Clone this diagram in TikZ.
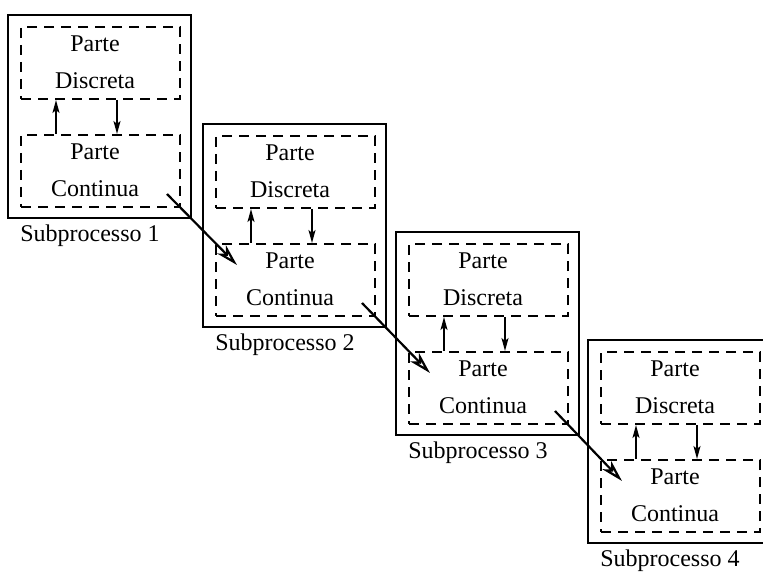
\documentclass[tikz,border=0pt]{standalone}
\usepackage{fontspec}
\setmainfont{Liberation Serif}
\usetikzlibrary{arrows.meta,calc}
\begin{document}
\begin{tikzpicture}[x=1pt,y=-1pt,
  outerbox/.style={draw, line width=2.2pt, minimum width=183pt, minimum height=203pt, inner sep=0pt},
  partbox/.style={draw, line width=2pt, dash pattern=on 10pt off 7pt, minimum width=159pt, minimum height=72pt, inner sep=0pt},
  parttext/.style={align=center, font=\fontsize{24}{37}\selectfont, inner sep=0pt},
  caption/.style={font=\fontsize{24}{28}\selectfont, inner sep=0pt},
  link/.style={line width=1.8pt, -{Stealth[open,length=13pt,width=7pt,inset=3pt]}},
  flow/.style={line width=2.2pt, -{Stealth[open,length=22pt,width=12pt,inset=6pt]}}]
\useasboundingbox (0,0) rectangle (763,572);
% four subprocesses, each with a discrete and a continuous part
\foreach \i/\X/\Y in {1/8/15, 2/203/124, 3/396/232, 4/588/340} {
  \node[outerbox] (s\i) at (\X+91.5, \Y+101.5) {};
  \node[partbox] (d\i) at (\X+92.5, \Y+48) {};
  \node[partbox] (c\i) at (\X+92.5, \Y+156) {};
  \node[parttext] (dt\i) at (\X+87, \Y+47) {Parte\\Discreta};
  \node[parttext] (ct\i) at (\X+87, \Y+155) {Parte\\Continua};
  \node[caption] (l\i) at (\X+82, \Y+221) {Subprocesso \i};
  % exchange between the two parts
  \draw[link] ($(c\i.north west)+(36,0)$) -- ($(d\i.south west)+(36,0)$);
  \draw[link] ($(d\i.south west)+(97,0)$) -- ($(c\i.north west)+(97,0)$);
}
% hand-over from one subprocess to the next
\foreach \i/\j in {1/2, 2/3, 3/4} {
  \draw[flow] ($(c\i.south east)+(-14,-14)$) -- ($(c\j.north west)+(22,22)$);
}
\end{tikzpicture}
\end{document}
